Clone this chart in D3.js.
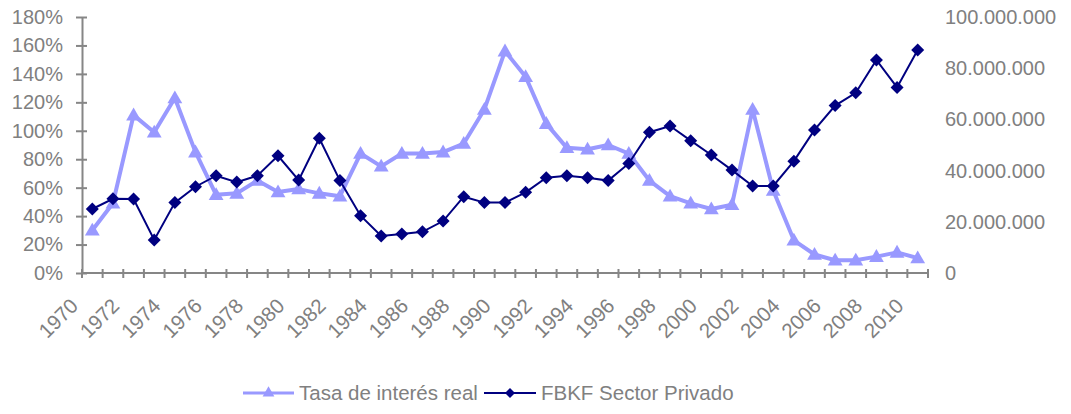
<!DOCTYPE html>
<html>
<head>
<meta charset="utf-8">
<script src="https://cdn.jsdelivr.net/npm/d3@7"></script>
<style>
  html, body { margin: 0; padding: 0; background: #fff; }
  #chart { width: 1071px; height: 414px; }
  text { font-family: "Liberation Sans", Arial, sans-serif; fill: #808080; }
</style>
</head>
<body>
<div id="chart"></div>
<script>
const YEARS = d3.range(1970, 2011);
const TASA = [
  0.30, 0.49, 1.11, 0.99, 1.23, 0.85, 0.55, 0.56, 0.65, 0.57,
  0.59, 0.56, 0.54, 0.84, 0.75, 0.84, 0.84, 0.85, 0.91, 1.15,
  1.56, 1.38, 1.05, 0.88, 0.87, 0.90, 0.84, 0.65, 0.54, 0.49,
  0.45, 0.48, 1.15, 0.58, 0.23, 0.13, 0.09, 0.09, 0.115, 0.145,
  0.105
];
const FBKF = [
  25.0, 29.0, 28.9, 12.9, 27.5, 33.7, 38.0, 35.5, 38.0, 45.8,
  36.3, 52.6, 36.1, 22.4, 14.5, 15.2, 16.1, 20.3, 29.8, 27.5,
  27.5, 31.5, 37.2, 38.0, 37.2, 36.1, 42.8, 55.0, 57.4, 51.7,
  46.1, 40.2, 34.0, 34.0, 43.7, 55.9, 65.4, 70.4, 83.2, 72.5,
  87.1
].map((v) => v * 1e6);
const LEFT_TICKS = [0, 0.2, 0.4, 0.6, 0.8, 1.0, 1.2, 1.4, 1.6, 1.8];
const RIGHT_TICKS = [0, 2e7, 4e7, 6e7, 8e7, 1e8];
const LABEL_YEARS = YEARS.filter((y) => y % 2 === 0);

const SERIES = [
  { name: "Tasa de interés real", color: "#9999ff", width: 4, marker: "triangle" },
  { name: "FBKF Sector Privado", color: "#000080", width: 2, marker: "diamond" },
];

const width = 1071;
const height = 414;
const plot = { left: 82, right: 928, top: 17, bottom: 273 };
const GRAY = "#868686";

const svg = d3.select("#chart").append("svg")
  .attr("width", width)
  .attr("height", height);

const x = d3.scaleBand().domain(YEARS).range([plot.left, plot.right]).padding(0);
const cx = (year) => x(year) + x.bandwidth() / 2;
const yLeft = d3.scaleLinear().domain([0, 1.8]).range([plot.bottom, plot.top]);
const yRight = d3.scaleLinear().domain([0, 1e8]).range([plot.bottom, plot.top]);

const esLocale = d3.formatLocale({ decimal: ",", thousands: ".", grouping: [3], currency: ["", ""] });

// left axis
const leftAxis = svg.append("g")
  .attr("transform", `translate(${plot.left},0)`)
  .call(d3.axisLeft(yLeft).tickValues(LEFT_TICKS).tickFormat(d3.format(".0%")).tickSize(0).tickPadding(19));
leftAxis.select(".domain").attr("stroke", GRAY).attr("stroke-width", 2);
leftAxis.selectAll(".tick text").style("font-size", "20px").attr("fill", "#808080");
leftAxis.selectAll(".tick").append("line")
  .attr("x1", -6).attr("x2", 5).attr("stroke", GRAY).attr("stroke-width", 2);

// right axis (labels only)
const rightAxis = svg.append("g")
  .attr("transform", `translate(${plot.right},0)`)
  .call(d3.axisRight(yRight).tickValues(RIGHT_TICKS).tickFormat(esLocale.format(",")).tickSize(0).tickPadding(17));
rightAxis.select(".domain").remove();
rightAxis.selectAll(".tick text").style("font-size", "20px").attr("fill", "#808080");

// x axis with crossing ticks between categories
const xAxis = svg.append("g").attr("transform", `translate(0,${plot.bottom})`);
xAxis.append("line")
  .attr("x1", plot.left).attr("x2", plot.right)
  .attr("stroke", GRAY).attr("stroke-width", 2);
xAxis.selectAll(".xtick")
  .data(YEARS.concat([null]))
  .join("line")
  .attr("class", "xtick")
  .attr("x1", (d) => (d === null ? plot.right : x(d)))
  .attr("x2", (d) => (d === null ? plot.right : x(d)))
  .attr("y1", -4).attr("y2", 5)
  .attr("stroke", GRAY).attr("stroke-width", 2);

svg.append("g").selectAll("text")
  .data(LABEL_YEARS)
  .join("text")
  .attr("transform", (d) => `translate(${cx(d) - 18},${plot.bottom + 29}) rotate(-45)`)
  .attr("text-anchor", "end")
  .attr("dy", "0.35em")
  .style("font-size", "20.5px")
  .text((d) => d);

// series
const triangle = d3.symbol().type(d3.symbolTriangle).size(95);
const diamond = (s) => `M0,${-s}L${s},0L0,${s}L${-s},0Z`;

const tasaLine = d3.line().x((d, i) => cx(YEARS[i])).y((d) => yLeft(d));
const fbkfLine = d3.line().x((d, i) => cx(YEARS[i])).y((d) => yRight(d));

svg.append("path")
  .attr("d", tasaLine(TASA))
  .attr("fill", "none")
  .attr("stroke", SERIES[0].color)
  .attr("stroke-width", SERIES[0].width)
  .attr("stroke-linejoin", "round");
svg.append("g").selectAll("path")
  .data(TASA)
  .join("path")
  .attr("transform", (d, i) => `translate(${cx(YEARS[i])},${yLeft(d) + 1})`)
  .attr("d", triangle())
  .attr("fill", SERIES[0].color);

svg.append("path")
  .attr("d", fbkfLine(FBKF))
  .attr("fill", "none")
  .attr("stroke", SERIES[1].color)
  .attr("stroke-width", SERIES[1].width);
svg.append("g").selectAll("path")
  .data(FBKF)
  .join("path")
  .attr("transform", (d, i) => `translate(${cx(YEARS[i])},${yRight(d)})`)
  .attr("d", diamond(6.5))
  .attr("fill", SERIES[1].color);

// legend
const legendY = 393;
const legendItems = [
  { x0: 243, tx: 56, ...SERIES[0] },
  { x0: 484, tx: 57, ...SERIES[1] },
];
const legend = svg.append("g");
legendItems.forEach((item) => {
  const g = legend.append("g").attr("transform", `translate(${item.x0},${legendY})`);
  g.append("line")
    .attr("x1", 0).attr("x2", item.tx - 5)
    .attr("stroke", item.color)
    .attr("stroke-width", item.marker === "triangle" ? 3 : 2);
  g.append("path")
    .attr("transform", `translate(${(item.tx - 5) / 2},0)`)
    .attr("d", item.marker === "triangle" ? d3.symbol().type(d3.symbolTriangle).size(60)() : diamond(5))
    .attr("fill", item.color);
  g.append("text")
    .attr("x", item.tx)
    .attr("dy", "0.35em")
    .style("font-size", "20.5px")
    .text(item.name);
});
</script>
</body>
</html>
